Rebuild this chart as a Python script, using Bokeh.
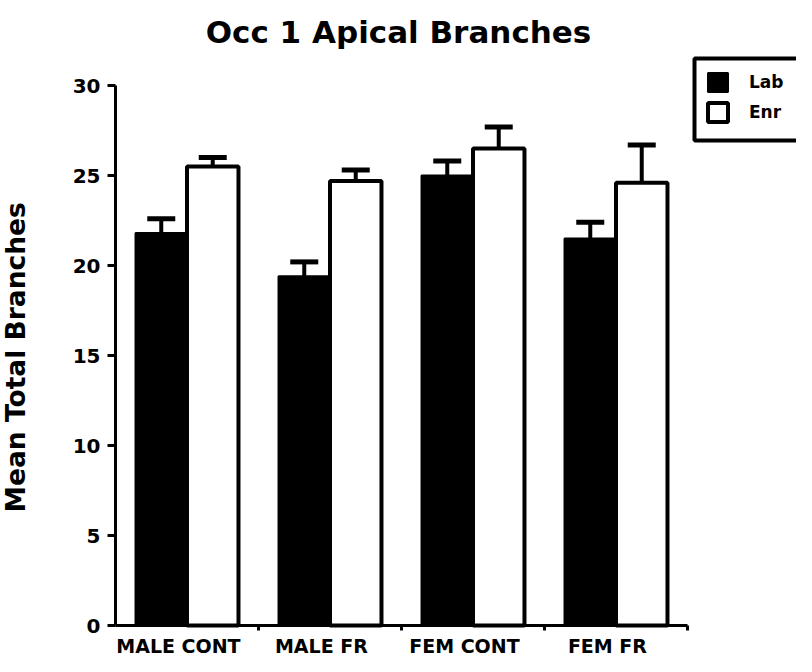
import math
from bokeh.plotting import figure
from bokeh.models import (ColumnDataSource, FixedTicker, Range1d, Whisker, TeeHead,
                          Legend, LegendItem, Label, BoxAnnotation)
from bokeh.embed import file_html
from bokeh.resources import INLINE

# ---- data ----
categories = ["MALE CONT", "MALE FR", "FEM CONT", "FEM FR"]
lab_mean = [21.8, 19.4, 25.0, 21.5]
lab_sem = [0.8, 0.8, 0.8, 0.9]
enr_mean = [25.5, 24.7, 26.5, 24.6]
enr_sem = [0.5, 0.6, 1.2, 2.1]
y_ticks = [0, 5, 10, 15, 20, 25, 30]

FONT = "DejaVu Sans"
W, H = 796, 656
pos = [i + 1 for i in range(len(categories))]
label_pos = [p_ - 0.06 for p_ in pos]   # labels sit slightly left of group centres
off = 0.18
bw = 0.36

# frame = whole canvas; axes are placed at fixed data locations
PX_X, PX_Y = 143.0, 18.0          # pixels per data unit
AX_LEFT, AX_BOTTOM = 115, 625     # canvas position of x=0.5 / y=0
x0 = 0.5 - AX_LEFT / PX_X
x1 = 0.5 + (W - AX_LEFT) / PX_X
y0 = -(H - AX_BOTTOM) / PX_Y
y1 = AX_BOTTOM / PX_Y


def sx_to_x(px):
    return 0.5 + (px - AX_LEFT) / PX_X


def sy_to_y(py):
    return (AX_BOTTOM - py) / PX_Y


lab_src = ColumnDataSource(dict(
    x=[p_ - off for p_ in pos], top=lab_mean,
    upper=[m + s for m, s in zip(lab_mean, lab_sem)]))
enr_src = ColumnDataSource(dict(
    x=[p_ + off for p_ in pos], top=enr_mean,
    upper=[m + s for m, s in zip(enr_mean, enr_sem)]))

p = figure(width=W, height=H, output_backend="svg", toolbar_location=None,
           x_range=Range1d(x0, x1), y_range=Range1d(y0, y1), min_border=0)
p.outline_line_color = None
p.grid.visible = False
p.background_fill_color = "white"
p.border_fill_color = "white"

r_lab = p.vbar(x="x", top="top", width=bw, bottom=0, source=lab_src,
               fill_color="black", line_color="black", line_width=2)
r_enr = p.vbar(x="x", top="top", width=bw, bottom=0, source=enr_src,
               fill_color="white", line_color="black", line_width=4)

for src in (lab_src, enr_src):
    w = Whisker(base="x", lower="top", upper="upper", source=src,
                line_color="black", line_width=4, lower_head=None,
                upper_head=TeeHead(size=28, line_width=5, line_color="black"),
                level="glyph")
    p.add_layout(w)

# x axis
xa = p.xaxis[0]
xa.fixed_location = 0
xa.bounds = (0.5, 4.5)
xa.ticker = FixedTicker(ticks=label_pos, minor_ticks=[p_ + 0.5 for p_ in pos])
xa.major_label_overrides = {lp: c for lp, c in zip(label_pos, categories)}
xa.major_tick_line_color = None
xa.major_tick_out = 0
xa.major_tick_in = 0
xa.minor_tick_line_color = "black"
xa.minor_tick_line_width = 3
xa.minor_tick_out = 5
xa.minor_tick_in = 0
xa.axis_line_width = 3
xa.major_label_standoff = 4
xa.major_label_text_font = FONT
xa.major_label_text_font_style = "bold"
xa.major_label_text_font_size = "19px"
xa.major_label_text_color = "black"

# y axis
ya = p.yaxis[0]
ya.fixed_location = 0.5
ya.bounds = (0, 30)
ya.ticker = FixedTicker(ticks=y_ticks, minor_ticks=[])
ya.axis_line_width = 3
ya.major_tick_line_width = 3
ya.major_tick_out = 8
ya.major_tick_in = 0
ya.minor_tick_line_color = None
ya.major_label_standoff = 7
ya.major_label_text_font = FONT
ya.major_label_text_font_style = "bold"
ya.major_label_text_font_size = "20px"
ya.major_label_text_color = "black"

# title and y-axis title as text
p.add_layout(Label(x=2.5, y=33.0, x_offset=-3, text="Occ 1 Apical Branches",
                   text_align="center", text_baseline="alphabetic",
                   text_font=FONT, text_font_style="bold",
                   text_font_size="31px", text_color="black"))
p.add_layout(Label(x=15, y=14.9, x_units="screen", y_units="data",
                   angle=math.pi / 2, text="Mean Total Branches",
                   text_align="center", text_baseline="middle",
                   text_font=FONT, text_font_style="bold",
                   text_font_size="26.5px", text_color="black"))

# legend frame: runs past the right edge of the picture, as in the original
p.add_layout(BoxAnnotation(left=sx_to_x(694), right=sx_to_x(W + 40),
                           top=sy_to_y(58), bottom=sy_to_y(140),
                           fill_color="white", fill_alpha=1,
                           line_color="black", line_alpha=1, line_width=4))

# legend without its own border (so no padding): items placed inside the frame
legend = Legend(items=[LegendItem(label="Lab", renderers=[r_lab]),
                       LegendItem(label="Enr", renderers=[r_enr])],
                location=(705, 532), border_line_color=None,
                background_fill_alpha=0,
                glyph_width=25, glyph_height=24, label_height=24,
                spacing=6, padding=0, margin=0,
                label_standoff=19, label_text_font=FONT,
                label_text_font_style="bold", label_text_font_size="17px",
                label_text_color="black")
p.add_layout(legend)

open("out.html", "w").write(file_html(p, INLINE))
